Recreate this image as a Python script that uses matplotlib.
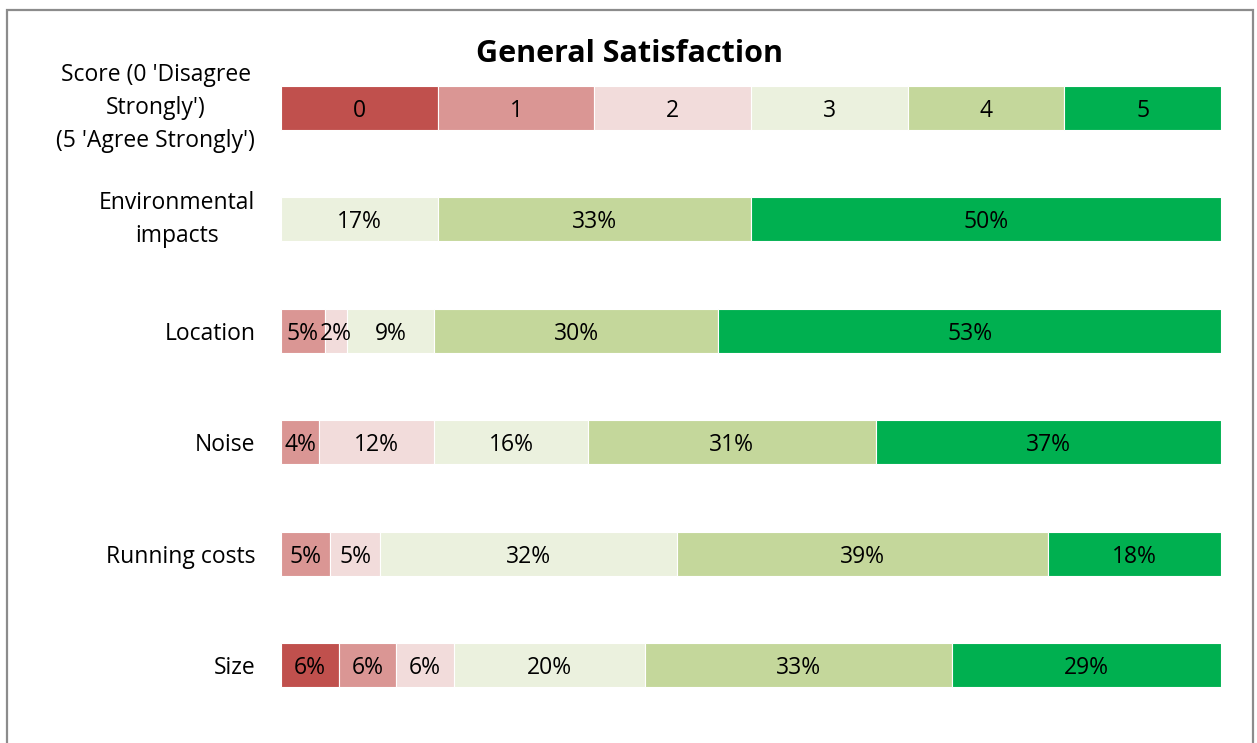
import matplotlib
matplotlib.use("Agg")
import matplotlib.pyplot as plt
from matplotlib.patches import Rectangle

plt.rcParams['font.family'] = ['Open Sans', 'DejaVu Sans']

categories = ["Score (0 'Disagree\nStrongly')\n(5 'Agree Strongly')",
              "Environmental\nimpacts", "Location", "Noise", "Running costs", "Size"]
scores = ["0", "1", "2", "3", "4", "5"]
colors = ["#C0504D", "#DA9694", "#F2DCDB", "#EBF1DE", "#C4D79B", "#00B050"]

# percentages per score (0..5) for each item
env_impacts = [0, 0, 0, 16.7, 33.3, 50.0]
location = [0, 4.65, 2.33, 9.30, 30.23, 53.49]
noise = [0, 4.08, 12.24, 16.33, 30.61, 36.73]
running_costs = [0, 5.26, 5.26, 31.58, 39.47, 18.42]
size = [6.12, 6.12, 6.12, 20.41, 32.65, 28.57]
score_row = [100 / 6] * 6

rows = [score_row, env_impacts, location, noise, running_costs, size]

FS = 16.5
W, H = 1257, 743
fig = plt.figure(figsize=(W / 100, H / 100), dpi=100)
ax = fig.add_axes([281 / W, 1 - 720.7 / H, 940 / W, (720.7 - 52.3) / H])

for i, vals in enumerate(rows):
    left = 0
    for j, v in enumerate(vals):
        if v > 0:
            ax.barh(i, v, left=left, height=0.395, color=colors[j],
                    edgecolor="white", linewidth=0.8)
            if i == 0:
                lab = scores[j]
            else:
                lab = f"{round(v):d}%"
            ax.text(left + v / 2, i, lab, ha="center", va="center_baseline",
                    fontsize=FS, color="black")
        left += v

ax.set_xlim(0, 100)
ax.set_ylim(5.5, -0.5)
ax.set_yticks(range(len(categories)))
ax.set_yticklabels(categories, fontsize=FS, ha="right", multialignment="center",
                   linespacing=1.5)
for lbl in ax.get_yticklabels():
    if "\n" in lbl.get_text():
        lbl.set_va("center")
ax.tick_params(axis="y", length=0, pad=18.5)
ax.set_xticks([])
for s in ax.spines.values():
    s.set_visible(False)

fig.text(630 / W, 1 - 54 / H, "General Satisfaction", ha="center", va="center",
         fontsize=22, fontweight="bold")

fig.patches.append(Rectangle((7 / W, -0.01), (1253 - 7) / W, (1 - 9.5 / H) + 0.01,
                             transform=fig.transFigure, fill=False,
                             edgecolor="#8C8C8C", linewidth=1.6))

fig.savefig("out.png", dpi=100)
